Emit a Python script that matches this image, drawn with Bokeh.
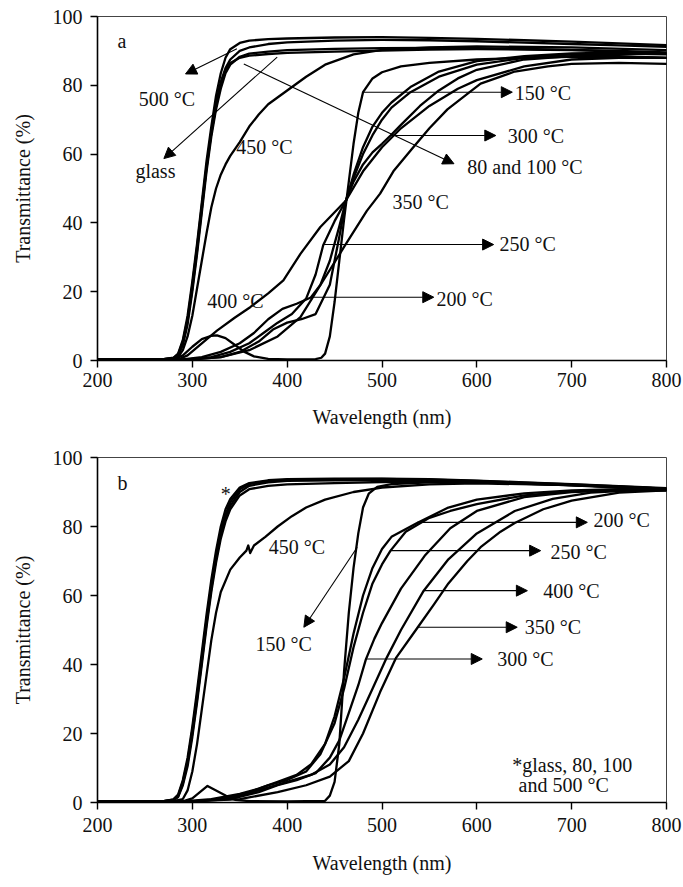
from bokeh.plotting import figure
from bokeh.layouts import column
from bokeh.models import Range1d, Arrow, NormalHead, Label
from bokeh.embed import file_html
from bokeh.resources import INLINE

FONT = "Liberation Serif"

# ---------------- Panel a data ----------------
a_steep_wl = [200, 270, 280, 285, 290, 295, 300, 305, 310, 315, 320, 325, 330, 335, 340, 350, 360, 380, 400, 450, 500, 550, 600, 650, 700, 750, 800]
a_500_t = [0.3, 0.4, 0.8, 2, 6, 13, 23, 34, 46, 58, 68, 77, 83.5, 88, 90.5, 92.3, 93, 93.4, 93.6, 93.9, 94, 93.8, 93.5, 93.1, 92.7, 92.2, 91.7]
a_80_t = [0.3, 0.4, 0.7, 1.8, 5.5, 12, 22, 33, 45, 56.5, 66.5, 75, 81, 85, 87.5, 90, 91, 92, 92.5, 93, 93.2, 93.1, 92.8, 92.4, 92, 91.6, 91.2]
a_100_t = [0.3, 0.4, 0.6, 1.5, 4.5, 10.5, 20, 31, 43, 55, 65, 73, 79, 83.5, 86, 88.3, 89.2, 89.8, 90.2, 90.6, 90.8, 90.9, 90.8, 90.6, 90.3, 90, 89.6]
a_glass_t = [0.3, 0.4, 0.6, 1.6, 5, 11.5, 21, 32, 44, 56, 66, 74, 80, 84.5, 86.5, 88, 88.6, 89.1, 89.4, 89.8, 90.1, 90.4, 90.5, 90.4, 90.2, 89.8, 89.3]

a_450_wl = [200, 275, 285, 290, 295, 300, 305, 310, 315, 320, 325, 330, 335, 340, 350, 360, 370, 380, 400, 420, 440, 470, 500, 550, 600, 700, 800]
a_450_t = [0.3, 0.4, 1, 3, 7, 13, 21, 29, 37, 44.5, 50, 54, 57, 59.5, 63.5, 68, 71.5, 74.5, 78.5, 82.5, 86, 89, 90.3, 91, 91.3, 91, 90.2]

a_150_wl = [200, 280, 290, 300, 310, 320, 326, 335, 345, 355, 365, 380, 400, 430, 436, 440, 445, 450, 455, 460, 465, 470, 475, 480, 490, 500, 520, 550, 600, 650, 700, 750, 800]
a_150_t = [0.2, 0.3, 1.5, 4, 6.2, 7.2, 7.3, 6.5, 4.5, 2.5, 1.2, 0.5, 0.3, 0.4, 0.8, 2, 7, 17, 29, 41, 52, 63, 72, 78, 82, 83.8, 85.5, 86.5, 87.5, 88, 88.3, 88.3, 88]

a_200_wl = [200, 290, 310, 330, 350, 365, 380, 395, 410, 425, 435, 445, 455, 462, 470, 480, 490, 500, 510, 530, 560, 600, 650, 700, 750, 800]
a_200_t = [0.2, 0.3, 1, 2.5, 5, 8, 12, 15, 16.5, 18.3, 22, 29, 39, 46.5, 54, 62, 68, 72, 75, 79.5, 84, 87, 88.5, 89.3, 89.5, 89.2]

a_250_wl = [200, 295, 320, 340, 360, 375, 390, 405, 420, 430, 438, 450, 462, 470, 480, 490, 500, 510, 530, 560, 600, 650, 700, 750, 800]
a_250_t = [0.2, 0.3, 1, 2.5, 5, 8, 11, 13.5, 18, 25, 33.5, 40.5, 46.5, 53, 60, 65.5, 70, 73.5, 78, 82.5, 86, 88, 89, 89.2, 89]

a_300_wl = [200, 300, 330, 350, 370, 385, 400, 415, 430, 445, 455, 462, 470, 480, 490, 500, 509, 520, 540, 560, 580, 600, 650, 700, 750, 800]
a_300_t = [0.2, 0.3, 1, 2.5, 5.5, 9, 11, 12, 13.5, 22, 36, 46.5, 52, 57, 60.5, 63, 65.4, 68.5, 74, 78.5, 82, 84.5, 87.5, 88.5, 88.5, 88]

a_350_wl = [200, 300, 330, 360, 390, 414, 442, 460, 484, 498, 512, 533, 550, 569, 590, 604, 625, 640, 675, 700, 750, 800]
a_350_t = [0.2, 0.3, 1, 3, 7, 12.6, 25, 33, 43.5, 48.5, 55, 62, 67.5, 73, 77.5, 80.5, 82.5, 84, 85.5, 86.2, 86.5, 86.2]

a_400_wl = [200, 285, 295, 310, 326, 345, 361, 380, 396, 414, 435, 462, 480, 500, 520, 550, 580, 600, 650, 700, 750, 800]
a_400_t = [0.2, 0.3, 1.5, 5, 8.7, 12.5, 15.5, 19.5, 23.3, 31, 38.8, 46.5, 55, 62, 67.5, 74, 79, 81.5, 85.5, 87.5, 88, 88]

# ---------------- Panel b data ----------------
b_steep_wl = [200, 270, 280, 285, 290, 295, 300, 305, 310, 315, 320, 325, 330, 335, 340, 350, 360, 380, 400, 450, 500, 550, 600, 650, 700, 750, 800]
b_500_t = [0.3, 0.4, 0.8, 2, 6, 12, 21, 31, 42, 53, 63, 71.5, 78.5, 83.5, 87, 90.8, 92.3, 93.2, 93.5, 93.7, 93.8, 93.6, 93.2, 92.7, 92.2, 91.6, 91]
b_glass_t = [0.3, 0.4, 0.7, 1.8, 5.5, 11.5, 20, 30, 41, 52, 62, 70.5, 77.5, 82.5, 86, 90, 91.8, 92.8, 93.2, 93.4, 93.5, 93.3, 93, 92.6, 92, 91.4, 90.8]
b_80_t = [0.3, 0.4, 0.9, 2.3, 6.5, 13, 22, 32.5, 43.5, 54.5, 64.5, 73, 80, 85, 88, 91.3, 92.6, 93.4, 93.7, 93.9, 93.9, 93.7, 93.3, 92.8, 92.3, 91.7, 91.1]
b_100_t = [0.3, 0.4, 0.6, 1.6, 5, 10.5, 19, 29, 40, 51, 61, 69.5, 76.5, 81.5, 85, 89, 90.8, 91.8, 92.2, 92.6, 92.9, 93, 92.8, 92.4, 91.9, 91.3, 90.7]

b_450_wl = [200, 280, 290, 295, 300, 305, 310, 315, 320, 325, 330, 340, 350, 357, 359, 361, 365, 377, 390, 405, 420, 440, 470, 500, 550, 600, 700, 800]
b_450_t = [0.3, 0.4, 1, 3.5, 9, 17, 27, 37, 47, 55, 61, 67.5, 71, 73, 74.5, 72.3, 74.5, 77, 80, 83, 85.5, 87.8, 90, 91.3, 92.2, 92.5, 92, 91]

b_150_wl = [200, 290, 300, 308, 316, 325, 335, 345, 360, 400, 440, 445, 450, 455, 460, 465, 470, 475, 480, 486, 495, 510, 550, 600, 700, 800]
b_150_t = [0.2, 0.3, 1.2, 3, 4.8, 3.5, 2, 0.8, 0.4, 0.3, 0.5, 2, 6, 17, 38, 55, 68, 78, 85.5, 89.5, 91.5, 92.3, 92.8, 92.8, 92, 91]

b_200_wl = [200, 290, 320, 350, 370, 390, 410, 425, 440, 450, 460, 470, 480, 490, 500, 510, 537, 570, 600, 650, 700, 750, 800]
b_200_t = [0.2, 0.3, 1, 2.5, 4, 6, 8, 11, 17, 25, 36, 49, 60, 68, 73.5, 77, 81, 85.5, 87.8, 89.6, 90.5, 90.8, 90.7]

b_250_wl = [200, 300, 330, 360, 380, 400, 420, 435, 450, 460, 470, 480, 490, 500, 509, 525, 550, 572, 600, 650, 700, 750, 800]
b_250_t = [0.2, 0.3, 1, 3, 5, 6.5, 9, 14, 23, 33, 45, 55, 63.5, 69, 73, 78.5, 82.5, 84.5, 86.5, 89, 90.2, 90.6, 90.6]

b_300_wl = [200, 300, 340, 370, 390, 410, 430, 445, 455, 465, 475, 483, 492, 500, 520, 545, 572, 600, 650, 700, 750, 800]
b_300_t = [0.2, 0.3, 1, 3, 5, 6.5, 8.5, 13, 18, 26, 34, 41.5, 47.5, 52, 62, 71.5, 79.5, 84.5, 88.5, 90, 90.5, 90.5]

b_400_wl = [200, 300, 340, 370, 400, 425, 445, 460, 475, 490, 505, 520, 544, 570, 600, 640, 680, 720, 760, 800]
b_400_t = [0.2, 0.3, 1.2, 3.5, 6, 8, 11, 16, 24, 33, 42, 50, 61.4, 70.5, 78, 84.5, 88, 89.8, 90.4, 90.5]

b_350_wl = [200, 300, 350, 390, 420, 445, 465, 480, 498, 515, 537, 555, 570, 590, 604, 625, 640, 670, 700, 750, 800]
b_350_t = [0.2, 0.3, 1, 3, 5, 7.5, 12, 20, 32, 42, 50.5, 57.5, 63.5, 70, 74, 78.5, 81, 85, 87.5, 89.8, 90.5]

x_ticks = [200, 300, 400, 500, 600, 700, 800]
y_ticks = [0, 20, 40, 60, 80, 100]

# annotations: (text, x_left, y_mid)
a_labels = [("a", 221, 93), ("500 °C", 243.6, 76), ("glass", 240, 55), ("450 °C", 346.3, 62),
            ("400 °C", 315.7, 17.4), ("350 °C", 511, 46), ("150 °C", 640, 77.8),
            ("300 °C", 632.5, 65.4), ("80 and 100 °C", 590, 56.2), ("250 °C", 624, 33.9),
            ("200 °C", 557.6, 18)]
a_arrows = [(347, 90.6, 292.8, 83.3), (389.5, 88.2, 270, 58.7), (354.3, 86.2, 575.9, 57.2),
            (480.6, 78, 637.4, 78), (509, 65.4, 620, 65.4), (438.5, 33.7, 617.7, 33.7),
            (424.7, 18.4, 554.6, 18.4)]

b_labels = [("b", 221, 92.5), ("*", 330, 89.5), ("450 °C", 380.7, 74), ("150 °C", 366.7, 46),
            ("200 °C", 723, 82), ("250 °C", 677.8, 72.6), ("400 °C", 670, 61.2),
            ("350 °C", 650.4, 50.8), ("300 °C", 621.6, 41.6),
            ("*glass, 80, 100", 637.3, 10.9), ("and 500 °C", 644, 5.1)]
b_arrows = [(473.9, 74, 417.6, 50.8), (537, 81.2, 716.5, 81.2), (509, 73, 667.3, 73),
            (544, 61.4, 653.3, 61.4), (537, 50.8, 642.6, 50.8), (482.7, 41.6, 605.7, 41.6)]


def make_fig(top, bottom, fh, tick_standoff, title_standoff):
    p = figure(frame_width=569, frame_height=fh, min_border_left=97, min_border_right=16,
               min_border_top=top, min_border_bottom=bottom,
               x_range=Range1d(200, 800), y_range=Range1d(0, 100),
               output_backend="svg", toolbar_location=None,
               x_axis_label="Wavelength (nm)", y_axis_label="Transmittance (%)")
    p.grid.visible = False
    p.outline_line_color = "#444444"
    p.outline_line_width = 1
    p.background_fill_color = "white"
    p.border_fill_color = "white"
    for ax in (p.xaxis, p.yaxis):
        ax.axis_line_width = 1.6
        ax.axis_line_color = "black"
        ax.major_tick_line_width = 1.4
        ax.major_tick_line_color = "black"
        ax.major_tick_in = 0
        ax.major_tick_out = 7
        ax.minor_tick_line_color = None
        ax.major_label_text_font = FONT
        ax.major_label_text_font_size = "20px"
        ax.major_label_text_color = "#111111"
        ax.axis_label_text_font = FONT
        ax.axis_label_text_font_size = "20px"
        ax.axis_label_text_font_style = "normal"
        ax.axis_label_text_color = "#111111"
    p.xaxis.ticker = x_ticks
    p.yaxis.ticker = y_ticks
    p.xaxis.major_label_standoff = tick_standoff
    p.xaxis.axis_label_standoff = title_standoff
    p.yaxis.major_label_standoff = 8
    p.yaxis.axis_label_standoff = 16
    return p


def add_curve(p, wl, t):
    p.line(wl, t, line_color="black", line_width=2.3, line_join="round", line_cap="round")


def add_annotations(p, labels, arrows):
    for (x0, y0, x1, y1) in arrows:
        p.add_layout(Arrow(end=NormalHead(size=11, fill_color="black", line_color="black", line_width=1),
                           x_start=x0, y_start=y0, x_end=x1, y_end=y1,
                           line_color="black", line_width=1.1))
    for (txt, x, y) in labels:
        p.add_layout(Label(x=x, y=y, text=txt, text_font=FONT, text_font_size="20px",
                           text_baseline="middle", text_align="left", text_color="#111111"))


p1 = make_fig(16, 73, 344, 5, 16)
for t in (a_glass_t, a_100_t, a_80_t, a_500_t):
    add_curve(p1, a_steep_wl, t)
add_curve(p1, a_450_wl, a_450_t)
add_curve(p1, a_150_wl, a_150_t)
add_curve(p1, a_200_wl, a_200_t)
add_curve(p1, a_250_wl, a_250_t)
add_curve(p1, a_300_wl, a_300_t)
add_curve(p1, a_350_wl, a_350_t)
add_curve(p1, a_400_wl, a_400_t)
add_annotations(p1, a_labels, a_arrows)

p2 = make_fig(24, 75, 345, 8, 17)
for t in (b_glass_t, b_100_t, b_80_t, b_500_t):
    add_curve(p2, b_steep_wl, t)
add_curve(p2, b_450_wl, b_450_t)
add_curve(p2, b_150_wl, b_150_t)
add_curve(p2, b_200_wl, b_200_t)
add_curve(p2, b_250_wl, b_250_t)
add_curve(p2, b_300_wl, b_300_t)
add_curve(p2, b_400_wl, b_400_t)
add_curve(p2, b_350_wl, b_350_t)
add_annotations(p2, b_labels, b_arrows)

layout = column(p1, p2, spacing=0)
open("out.html", "w").write(file_html(layout, INLINE))
